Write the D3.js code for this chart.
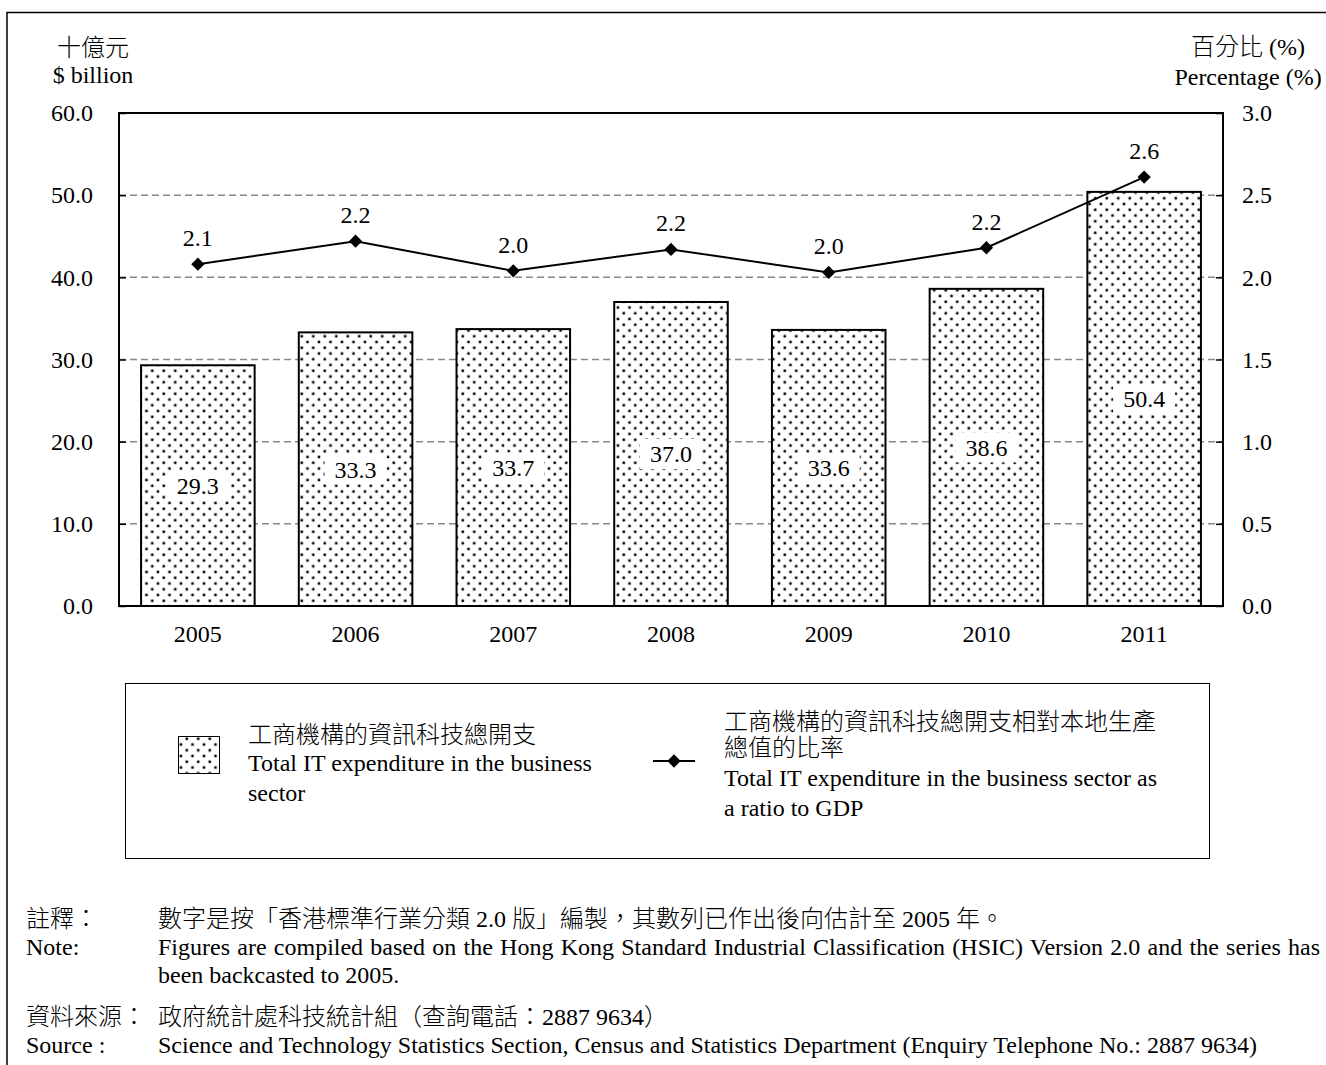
<!DOCTYPE html>
<html>
<head>
<meta charset="utf-8">
<style>
  body { margin: 0; background: #fff; }
  svg { display: block; font-family: "Liberation Serif", "Times New Roman", "Noto Sans CJK TC", serif; font-weight: 300; }
</style>
</head>
<body>
<svg width="1326" height="1065"></svg>
<script src="https://d3js.org/d3.v7.min.js"></script>
<script>
// data
var years = ["2005", "2006", "2007", "2008", "2009", "2010", "2011"];
var spend = [29.3, 33.3, 33.7, 37.0, 33.6, 38.6, 50.4];      // $ billion
var ratio = [2.08, 2.22, 2.04, 2.17, 2.03, 2.18, 2.61];      // % of GDP
var leftTicks = [0, 10, 20, 30, 40, 50, 60];
var rightTicks = [0, 0.5, 1, 1.5, 2, 2.5, 3];

var svg = d3.select("svg"),
    width = +svg.attr("width"),
    height = +svg.attr("height");

var fs = 24;
var plot = {left: 119, right: 1223, top: 113, bottom: 606};
var fmt = d3.format(".1f");
var rows = years.map(function(y, i) { return {year: y, spend: spend[i], ratio: ratio[i]}; });

var x = d3.scaleBand().domain(years).range([plot.left, plot.right])
    .paddingInner(0.28).paddingOuter(0.14);
var yL = d3.scaleLinear().domain([0, 60]).range([plot.bottom, plot.top]);
var yR = d3.scaleLinear().domain([0, 3]).range([plot.bottom, plot.top]);

svg.append("rect").attr("width", width).attr("height", height).attr("fill", "#fff");

// dotted fill
var P = 11.5;
var pat = svg.append("defs").append("pattern")
    .attr("id", "dots").attr("patternUnits", "userSpaceOnUse")
    .attr("width", P).attr("height", P);
pat.append("rect").attr("width", P).attr("height", P).attr("fill", "#fff");
pat.append("rect").attr("x", 1.5).attr("y", 1.5).attr("width", 2.5).attr("height", 2.5).attr("fill", "#000");
pat.append("rect").attr("x", 1.5 + P / 2).attr("y", 1.5 + P / 2).attr("width", 2.5).attr("height", 2.5).attr("fill", "#000");

// outer frame (cut at the page edge)
svg.append("path").attr("d", "M7," + height + "V12.5H" + width)
    .attr("fill", "none").attr("stroke", "#000").attr("stroke-width", 1.5);

// gridlines
svg.append("g").selectAll("line")
  .data(leftTicks.filter(function(d) { return d > 0 && d < 60; }))
  .enter().append("line")
    .attr("x1", plot.left).attr("x2", plot.right)
    .attr("y1", function(d) { return yL(d); }).attr("y2", function(d) { return yL(d); })
    .attr("stroke", "#888").attr("stroke-width", 1.5).attr("stroke-dasharray", "7,4");

// bars
svg.append("g").selectAll("rect")
  .data(rows).enter().append("rect")
    .attr("x", function(d) { return x(d.year); })
    .attr("y", function(d) { return yL(d.spend); })
    .attr("width", x.bandwidth())
    .attr("height", function(d) { return yL(0) - yL(d.spend); })
    .attr("fill", "url(#dots)")
    .attr("stroke", "#000").attr("stroke-width", 2);

// bar value labels on white boxes
var bl = svg.append("g").selectAll("g")
  .data(rows).enter().append("g")
    .attr("transform", function(d) {
      return "translate(" + (x(d.year) + x.bandwidth() / 2) + "," + yL(d.spend / 2) + ")";
    });
bl.append("rect")
    .attr("x", -31).attr("y", -15).attr("width", 62).attr("height", 30)
    .attr("fill", "#fff");
bl.append("text")
    .attr("text-anchor", "middle").attr("dy", "0.35em")
    .attr("font-size", fs)
    .text(function(d) { return fmt(d.spend); });

// axes
var axL = svg.append("g").attr("transform", "translate(" + plot.left + ",0)")
    .call(d3.axisLeft(yL).tickValues(leftTicks).tickFormat(fmt).tickSize(-7).tickPadding(26));
var axR = svg.append("g").attr("transform", "translate(" + plot.right + ",0)")
    .call(d3.axisRight(yR).tickValues(rightTicks).tickFormat(fmt).tickSize(-7).tickPadding(19));
var axX = svg.append("g").attr("transform", "translate(0," + plot.bottom + ")")
    .call(d3.axisBottom(x).tickSize(0).tickPadding(19));
[axL, axR, axX].forEach(function(a) {
  a.select(".domain").remove();
  a.attr("font-family", null).attr("font-size", fs);
  a.selectAll("line").attr("stroke", "#000").attr("stroke-width", 1.5);
  a.selectAll("text").attr("fill", "#000");
});

// plot border
svg.append("rect")
    .attr("x", plot.left).attr("y", plot.top)
    .attr("width", plot.right - plot.left).attr("height", plot.bottom - plot.top)
    .attr("fill", "none").attr("stroke", "#000").attr("stroke-width", 2);

// ratio line
var line = d3.line()
    .x(function(d) { return x(d.year) + x.bandwidth() / 2; })
    .y(function(d) { return yR(d.ratio); });
svg.append("path").datum(rows)
    .attr("d", line).attr("fill", "none").attr("stroke", "#000").attr("stroke-width", 2);
var diamond = d3.symbol().type(d3.symbolSquare).size(88);
svg.append("g").selectAll("path")
  .data(rows).enter().append("path")
    .attr("d", diamond)
    .attr("transform", function(d) {
      return "translate(" + (x(d.year) + x.bandwidth() / 2) + "," + yR(d.ratio) + ") rotate(45)";
    });
svg.append("g").selectAll("text")
  .data(rows).enter().append("text")
    .attr("x", function(d) { return x(d.year) + x.bandwidth() / 2; })
    .attr("y", function(d) { return yR(d.ratio) - 18; })
    .attr("text-anchor", "middle").attr("font-size", fs)
    .text(function(d) { return fmt(d.ratio); });

// text helper
function label(tx, ty, s, anchor) {
  return svg.append("text").attr("x", tx).attr("y", ty)
    .attr("text-anchor", anchor || "start").attr("font-size", fs).text(s);
}

// unit labels
label(93, 56, "十億元", "middle");
label(93, 83, "$ billion", "middle");
label(1248, 55, "百分比 (%)", "middle");
label(1248, 85, "Percentage (%)", "middle");

// legend
svg.append("rect").attr("x", 125.5).attr("y", 683.5).attr("width", 1084).attr("height", 175)
    .attr("fill", "none").attr("stroke", "#000").attr("stroke-width", 1);
svg.append("rect").attr("x", 178.5).attr("y", 736.5).attr("width", 41).attr("height", 37)
    .attr("fill", "url(#dots)").attr("stroke", "#000").attr("stroke-width", 1);
label(248, 743, "工商機構的資訊科技總開支");
label(248, 771, "Total IT expenditure in the business");
label(248, 801, "sector");
svg.append("line").attr("x1", 653).attr("x2", 695).attr("y1", 761).attr("y2", 761)
    .attr("stroke", "#000").attr("stroke-width", 2);
svg.append("path").attr("d", diamond).attr("transform", "translate(674,761) rotate(45)");
label(724, 730, "工商機構的資訊科技總開支相對本地生產");
label(724, 756, "總值的比率");
label(724, 786, "Total IT expenditure in the business sector as");
label(724, 816, "a ratio to GDP");

// notes
label(26, 927, "註釋：");
label(158, 927, "數字是按「香港標準行業分類 2.0 版」編製，其數列已作出後向估計至 2005 年。");
label(26, 955, "Note:");
var noteLine = label(158, 955, "Figures are compiled based on the Hong Kong Standard Industrial Classification (HSIC) Version 2.0 and the series has");
var gap = 1320 - 158 - noteLine.node().getComputedTextLength();
var spaces = noteLine.text().split(" ").length - 1;
if (gap > 0) noteLine.attr("word-spacing", gap / spaces);
label(158, 983, "been backcasted to 2005.");
label(26, 1025, "資料來源：");
label(158, 1025, "政府統計處科技統計組（查詢電話：2887 9634）");
label(26, 1053, "Source :");
label(158, 1053, "Science and Technology Statistics Section, Census and Statistics Department (Enquiry Telephone No.: 2887 9634)");
</script>
</body>
</html>
